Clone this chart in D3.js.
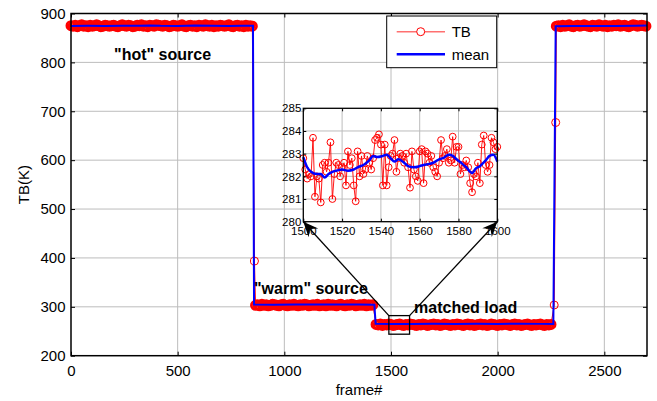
<!DOCTYPE html>
<html>
<head>
<meta charset="utf-8">
<script src="https://cdn.jsdelivr.net/npm/d3@7"></script>
<style>
  body { margin: 0; background: #fff; }
  svg { display: block; font-family: "Liberation Sans", Arial, Helvetica, sans-serif; }
</style>
</head>
<body>
<svg id="chart" width="657" height="401"></svg>
<script>
// ---- Radiometer brightness temperature per frame ----
const frameStep = 10;

// "hot" source, frames 0..850
const hotStartFrame = 0;
const hotStartTB = [
  875,874,876,873,875,877,874,875,873,876,
  874,875,877,875,873,874,876,875,874,875,
  876,874,873,875,877,875,874,876,875,873,
  874,876,875,877,874,875,873,876,875,874,
  877,876,875,874,876,875,873,874,876,875,
  874,875,877,874,873,875,876,874,875,873,
  876,875,874,877,875,874,876,873,875,874,
  876,875,874,875,877,874,873,875,876,874,
  875,873,876,874,875,874
];

// "warm" source, frames 865..1415
const warmStartFrame = 865;
const warmTB = [
  303,304,302,305,303,304,302,303,305,304,
  303,302,304,305,303,302,304,303,305,303,
  302,304,303,305,304,302,303,304,303,305,
  302,303,304,302,305,303,304,303,302,304,
  305,303,302,304,303,305,304,302,303,304,
  303,305,302,304,303,304
];

// matched load, frames 1430..2250
const matchedStartFrame = 1430;
const matchedTB = [
  264,263,265,262,264,263,265,264,262,263,
  264,265,263,262,264,263,265,264,263,262,
  264,263,265,264,262,263,264,265,263,264,
  262,263,265,264,263,262,264,263,265,264,
  263,262,264,265,263,264,262,263,264,265,
  263,264,262,263,265,264,263,262,264,263,
  265,264,263,262,264,265,263,264,262,263,
  264,265,263,262,264,263,264,265,263,262,
  264,263,264
];

// "hot" source again, frames 2275..2695
const hotEndFrame = 2275;
const hotEndTB = [
  874,875,873,876,874,875,877,874,873,875,
  876,874,875,877,875,874,873,876,875,874,
  877,875,874,876,873,875,874,876,875,877,
  874,875,876,874,873,875,877,876,874,875,
  876,875,874
];

// single frames caught while switching between targets
const switchFrames = [860, 2265, 2272];
const switchTB = [393.6, 303.7, 677];

// running mean
const meanFrames = [0, 80, 160, 240, 320, 370, 420, 500, 580, 660, 740, 800, 853,
  858, 950, 1050, 1150, 1250, 1350, 1422,
  1428, 1500, 1600, 1700, 1800, 1900, 2000, 2100, 2200, 2261,
  2272, 2350, 2450, 2550, 2650, 2700];
const meanTB = [874.6, 874.8, 874.5, 874.7, 874.9, 875.6, 874.8, 874.6, 875.2, 874.7, 874.5, 874.8, 874.7,
  304.6, 304.4, 304.6, 304.5, 304.7, 304.5, 304.4,
  265.2, 264.8, 265.0, 265.4, 264.9, 265.3, 265.0, 265.5, 265.1, 265.0,
  874.0, 874.2, 874.6, 874.5, 875.0, 875.3];

// ---- Detail view, frames 1500..1600 ----
const detailStartFrame = 1500;
const detailTB = [
  282.8, 282.3, 281.9, 282.1, 282.0, 283.7, 281.1, 282.0, 281.9, 280.85,
  282.5, 282.6, 282.2, 282.6, 283.5, 281.0, 282.1, 282.6, 282.5, 282.0,
  282.4, 282.6, 281.6, 283.1, 282.5, 282.8, 281.6, 280.9, 283.1, 282.0,
  282.9, 282.1, 282.3, 282.9, 282.6, 282.3, 282.8, 283.6, 283.7, 283.85,
  283.4, 281.6, 283.4, 281.6, 282.4, 282.9, 283.0, 283.6, 282.2, 282.8,
  283.0, 282.9, 282.6, 283.0, 282.4, 281.5, 283.1, 282.3, 282.0, 281.8,
  283.1, 283.2, 281.7, 283.1, 283.0, 282.6, 282.9, 282.4, 282.2, 282.0,
  282.6, 283.6, 282.8, 282.9, 283.2, 282.6, 282.7, 283.75, 282.6, 283.3,
  283.3, 282.1, 282.5, 282.4, 282.7, 282.4, 281.7, 281.3, 282.1, 282.0,
  282.6, 281.7, 283.4, 283.8, 282.5, 282.2, 282.5, 283.7, 283.5, 283.2,
  283.3
];
const detailMeanFrames = [1500,1502,1504,1507,1509,1511,1513,1515,1517,1520,
  1523,1526,1528,1531,1534,1536,1538,1541,1543,1545,
  1547,1549,1552,1554,1557,1560,1562,1565,1567,1570,
  1572,1575,1577,1579,1582,1584,1587,1589,1591,1594,
  1596,1598,1600];
const detailMeanTB = [282.85,282.4,282.2,282.1,282.1,281.95,282.1,282.2,282.25,282.3,
  282.25,282.3,282.4,282.5,282.7,282.9,282.85,282.9,282.95,282.8,
  282.65,282.75,282.6,282.45,282.4,282.45,282.5,282.55,282.6,282.75,
  282.8,282.95,282.9,282.75,282.55,282.4,282.15,282.35,282.45,282.7,
  282.9,282.95,282.65];

// ---- Axis ticks ----
const xTicks = [0, 500, 1000, 1500, 2000, 2500];
const yTicks = [200, 300, 400, 500, 600, 700, 800, 900];
const detailXTicks = [1500, 1520, 1540, 1560, 1580, 1600];
const detailYTicks = [280, 281, 282, 283, 284, 285];
const zoomFrames = [1490, 1587];
const zoomTB = [244, 282];

// ---------------------------------------------------------------
const svg = d3.select("#chart");
const GRID = "#bcbcbc";
const RED = "#ff0000";
const BLUE = "#0000ff";
const intFmt = d3.format("d");

// main axes
const x = d3.scaleLinear().domain([0, 2700]).range([71, 647]);
const y = d3.scaleLinear().domain([200, 900]).range([355.7, 13.5]);

// assemble the frame series in frame order
const series = [];
hotStartTB.forEach((v, i) => series.push([hotStartFrame + i * frameStep, v]));
warmTB.forEach((v, i) => series.push([warmStartFrame + i * frameStep, v]));
matchedTB.forEach((v, i) => series.push([matchedStartFrame + i * frameStep, v]));
hotEndTB.forEach((v, i) => series.push([hotEndFrame + i * frameStep, v]));
switchFrames.forEach((f, i) => series.push([f, switchTB[i], true]));
series.sort((a, b) => a[0] - b[0]);
const meanSeries = meanFrames.map((f, i) => [f, meanTB[i]]);

svg.append("rect").attr("width", 657).attr("height", 401).attr("fill", "#fff");

// grid
const grid = svg.append("g");
grid.selectAll(".gx").data(xTicks.slice(1)).join("line")
  .attr("x1", d => x(d)).attr("x2", d => x(d))
  .attr("y1", y(200)).attr("y2", y(900))
  .attr("stroke", GRID).attr("stroke-width", 1);
grid.selectAll(".gy").data(yTicks.slice(1, -1)).join("line")
  .attr("y1", d => y(d)).attr("y2", d => y(d))
  .attr("x1", x(0)).attr("x2", x(2700))
  .attr("stroke", GRID).attr("stroke-width", 1);

// TB trace: the dense runs of markers merge into a solid band
const line = d3.line().x(d => x(d[0])).y(d => y(d[1]));
svg.append("path").datum(series).attr("d", line)
  .attr("fill", "none").attr("stroke", RED).attr("stroke-width", 1);
svg.append("g").selectAll("circle").data(series).join("circle")
  .attr("cx", d => x(d[0])).attr("cy", d => y(d[1]))
  .attr("r", d => d[2] ? 4 : 4.2)
  .attr("fill", "none").attr("stroke", RED)
  .attr("stroke-width", d => d[2] ? 1 : 2.6);
svg.append("path").datum(meanSeries).attr("d", line)
  .attr("fill", "none").attr("stroke", BLUE).attr("stroke-width", 2);

// annotations
const notes = svg.append("g").attr("font-size", 16).attr("font-weight", "bold").attr("fill", "#000");
notes.append("text").attr("x", x(202)).attr("y", y(804.7)).text('"hot" source');
notes.append("text").attr("x", x(858)).attr("y", y(326)).text('"warm" source');
notes.append("text").attr("x", x(1608)).attr("y", y(287)).text("matched load");

// axes frame and ticks
function styleAxis(g, size) {
  g.select(".domain").remove();
  g.selectAll(".tick line").attr("stroke", "#000").attr("stroke-width", 1);
  g.selectAll(".tick text").attr("fill", "#000").attr("font-size", size)
    .attr("font-family", '"Liberation Sans", Arial, sans-serif');
}
svg.append("g").attr("transform", `translate(0,${y(200)})`)
  .call(d3.axisBottom(x).tickValues(xTicks).tickFormat(intFmt).tickSizeInner(-4).tickSizeOuter(0).tickPadding(9.5))
  .call(g => styleAxis(g, 15));
svg.append("g").attr("transform", `translate(0,${y(900)})`)
  .call(d3.axisTop(x).tickValues(xTicks).tickSizeInner(-4).tickSizeOuter(0).tickFormat(""))
  .call(g => styleAxis(g, 15));
svg.append("g").attr("transform", `translate(${x(0)},0)`)
  .call(d3.axisLeft(y).tickValues(yTicks).tickFormat(intFmt).tickSizeInner(-4).tickSizeOuter(0).tickPadding(5.5))
  .call(g => styleAxis(g, 15));
svg.append("g").attr("transform", `translate(${x(2700)},0)`)
  .call(d3.axisRight(y).tickValues(yTicks).tickSizeInner(-4).tickSizeOuter(0).tickFormat(""))
  .call(g => styleAxis(g, 15));
svg.append("rect")
  .attr("x", x(0)).attr("y", y(900)).attr("width", x(2700) - x(0)).attr("height", y(200) - y(900))
  .attr("fill", "none").attr("stroke", "#000").attr("stroke-width", 1.5);

svg.append("text").attr("x", (x(0) + x(2700)) / 2).attr("y", 395)
  .attr("text-anchor", "middle").attr("font-size", 15).text("frame#");
svg.append("text").attr("transform", `translate(23,${(y(200) + y(900)) / 2}) rotate(-90)`)
  .attr("text-anchor", "middle").attr("dominant-baseline", "central")
  .attr("font-size", 15).text("TB(K)");

// legend
const lg = svg.append("g");
lg.append("rect").attr("x", 386.7).attr("y", 16).attr("width", 110).attr("height", 51.7)
  .attr("fill", "#fff").attr("stroke", "#000").attr("stroke-width", 1);
lg.append("line").attr("x1", 396.7).attr("x2", 445).attr("y1", 31.7).attr("y2", 31.7)
  .attr("stroke", "#ff7070").attr("stroke-width", 1.5);
lg.append("circle").attr("cx", 420.7).attr("cy", 31.7).attr("r", 4)
  .attr("fill", "#fff").attr("stroke", RED).attr("stroke-width", 1);
lg.append("line").attr("x1", 396.7).attr("x2", 445).attr("y1", 54.3).attr("y2", 54.3)
  .attr("stroke", BLUE).attr("stroke-width", 2.5);
lg.append("text").attr("x", 451.7).attr("y", 31.7).attr("dominant-baseline", "central")
  .attr("font-size", 15).text("TB");
lg.append("text").attr("x", 451.7).attr("y", 54.3).attr("dominant-baseline", "central")
  .attr("font-size", 15).text("mean");

// ---- detail view ----
const xi = d3.scaleLinear().domain([1500, 1600]).range([303.3, 497.3]);
const yi = d3.scaleLinear().domain([280, 285]).range([221.7, 108.3]);

// zoom box and connectors
const bx0 = x(zoomFrames[0]), bx1 = x(zoomFrames[1]);
const by0 = y(zoomTB[1]), by1 = y(zoomTB[0]);
svg.append("rect").attr("x", bx0).attr("y", by0).attr("width", bx1 - bx0).attr("height", by1 - by0)
  .attr("fill", "none").attr("stroke", "#000").attr("stroke-width", 1.3);
const connectors = [
  [[bx0, by0], [xi(1500), yi(280)]],
  [[bx1, by0], [xi(1600), yi(280)]]
];
connectors.forEach(([p0, p1]) => {
  svg.append("line").attr("x1", p0[0]).attr("y1", p0[1]).attr("x2", p1[0]).attr("y2", p1[1])
    .attr("stroke", "#000").attr("stroke-width", 1.3);
});

const inset = svg.append("g");
inset.append("rect").attr("x", xi(1500)).attr("y", yi(285))
  .attr("width", xi(1600) - xi(1500)).attr("height", yi(280) - yi(285)).attr("fill", "#fff");
inset.selectAll(".igx").data(detailXTicks.slice(1, -1)).join("line")
  .attr("x1", d => xi(d)).attr("x2", d => xi(d)).attr("y1", yi(280)).attr("y2", yi(285))
  .attr("stroke", GRID).attr("stroke-width", 1);
inset.selectAll(".igy").data(detailYTicks.slice(1, -1)).join("line")
  .attr("y1", d => yi(d)).attr("y2", d => yi(d)).attr("x1", xi(1500)).attr("x2", xi(1600))
  .attr("stroke", GRID).attr("stroke-width", 1);

const detailSeries = detailTB.map((v, i) => [detailStartFrame + i, v]);
const detailMean = detailMeanFrames.map((f, i) => [f, detailMeanTB[i]]);
const iline = d3.line().x(d => xi(d[0])).y(d => yi(d[1]));
inset.append("path").datum(detailSeries).attr("d", iline)
  .attr("fill", "none").attr("stroke", RED).attr("stroke-width", 0.9);
inset.append("g").selectAll("circle").data(detailSeries).join("circle")
  .attr("cx", d => xi(d[0])).attr("cy", d => yi(d[1])).attr("r", 3.4)
  .attr("fill", "none").attr("stroke", RED).attr("stroke-width", 1);
inset.append("path").datum(detailMean).attr("d", d3.line().curve(d3.curveMonotoneX).x(d => xi(d[0])).y(d => yi(d[1])))
  .attr("fill", "none").attr("stroke", BLUE).attr("stroke-width", 2.5);

inset.append("g").attr("transform", `translate(0,${yi(280)})`)
  .call(d3.axisBottom(xi).tickValues(detailXTicks).tickFormat(intFmt).tickSizeInner(-3).tickSizeOuter(0).tickPadding(5))
  .call(g => styleAxis(g, 11.5));
inset.append("g").attr("transform", `translate(0,${yi(285)})`)
  .call(d3.axisTop(xi).tickValues(detailXTicks).tickSizeInner(-3).tickSizeOuter(0).tickFormat(""))
  .call(g => styleAxis(g, 11.5));
inset.append("g").attr("transform", `translate(${xi(1500)},0)`)
  .call(d3.axisLeft(yi).tickValues(detailYTicks).tickFormat(intFmt).tickSizeInner(-3).tickSizeOuter(0).tickPadding(2))
  .call(g => styleAxis(g, 11.5));
inset.append("g").attr("transform", `translate(${xi(1600)},0)`)
  .call(d3.axisRight(yi).tickValues(detailYTicks).tickSizeInner(-3).tickSizeOuter(0).tickFormat(""))
  .call(g => styleAxis(g, 11.5));
inset.append("rect").attr("x", xi(1500)).attr("y", yi(285))
  .attr("width", xi(1600) - xi(1500)).attr("height", yi(280) - yi(285))
  .attr("fill", "none").attr("stroke", "#000").attr("stroke-width", 1.3);

// arrowheads where the connectors meet the detail view
connectors.forEach(([p0, p1]) => {
  const dx = p1[0] - p0[0], dy = p1[1] - p0[1];
  const len = Math.hypot(dx, dy);
  const ux = dx / len, uy = dy / len, nx = -uy, ny = ux;
  const L = 15, W = 6.5, B = 10;
  const pts = [
    [p1[0], p1[1]],
    [p1[0] - ux * L + nx * W, p1[1] - uy * L + ny * W],
    [p1[0] - ux * B, p1[1] - uy * B],
    [p1[0] - ux * L - nx * W, p1[1] - uy * L - ny * W]
  ];
  svg.append("path").attr("d", "M" + pts.map(p => p.join(",")).join("L") + "Z").attr("fill", "#000");
});
</script>
</body>
</html>
